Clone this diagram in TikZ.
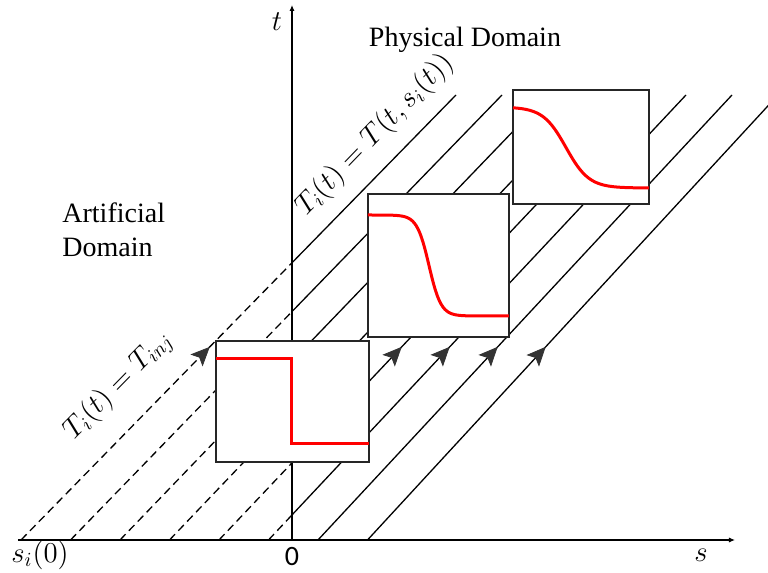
\documentclass[tikz,border=0pt]{standalone}
\usepackage{amsmath}
\usepackage{fontspec}
\setmainfont{Liberation Serif}
\newfontfamily\zerofont{Carlito}
\usepackage{tikz}
\usetikzlibrary{arrows.meta,calc,decorations.markings}
\definecolor{chrInk}{HTML}{000000}
\definecolor{chrFrame}{HTML}{262626}
\definecolor{chrTip}{HTML}{333333}
\definecolor{chrRed}{HTML}{FF0000}
\tikzset{
    >=Latex,
    axis/.style={-{Latex[length=3pt,width=2.6pt]}, line width=0.85pt, draw=chrInk},
    charline/.style={line width=0.65pt, draw=chrInk},
    artline/.style={charline, dash pattern=on 4pt off 2.4pt},
    tipmark/.style={decorate, decoration={markings, mark=at position #1 with {\arrow{Stealth[length=9.5pt,width=8.5pt,inset=2pt,color=chrTip]}}}},
    plotbox/.style={draw=chrFrame, line width=0.6pt, fill=white, inner sep=0pt},
    profile/.style={draw=chrRed, line width=1.5pt},
    domlabel/.style={inner sep=0pt, align=left, text=chrInk}
}
\begin{document}
\begin{tikzpicture}[x=0.5pt, y=0.5pt, font=\fontsize{14}{17}\selectfont]
\useasboundingbox (-292,-33) rectangle (476,540);
\begin{scope}
\clip (-292,-33) rectangle (476,540);
\foreach \k in {0,...,7}{
  \pgfmathsetmacro{\sx}{-271+49.5*\k}
  \pgfmathsetmacro{\ex}{\sx+435-3.5*\k}
  \pgfmathsetmacro{\cut}{max(0,-\sx/(\ex-\sx))}
  \coordinate (foot\k) at (\sx,0);
  \coordinate (head\k) at (\ex,445);
  \coordinate (cross\k) at ($(foot\k)!\cut!(head\k)$);
  \draw[artline] (foot\k) -- (cross\k);
  \draw[charline] (cross\k) -- (head\k);
  \path[tipmark=0.434] (foot\k) -- (head\k);
}
\end{scope}
\coordinate (origin) at (0,0);
\coordinate (sleft) at (-274,0);
\coordinate (send) at (443,0);
\coordinate (ttop) at (0,535);
\draw[axis] (sleft) -- (send);
\draw[axis] (origin) -- (ttop);
\node (tlab) at (-15,518) {$t$};
\node (slab) at (409,-15) {$s$};
\node (zero) at (0,-17) {\zerofont 0};
\node (sstart) at (-252,-15) {$s_i(0)$};
\node[domlabel, anchor=north west] (artdom) at (-230,338) {Artificial\\Domain};
\node[domlabel, anchor=base] (physdom) at (173,493) {Physical Domain};
\node[rotate=46, anchor=base] (physlab) at (88,400) {$T_i(t) = T(t, s_i(t))$};
\node[rotate=45.6, anchor=base] (artlab) at (-169,150) {$T_i(t) = T_{inj}$};
\node[plotbox, minimum width=76.5pt, minimum height=60.5pt] (stepbox) at (0.5,138.5) {};
\node[plotbox, minimum width=70.5pt, minimum height=71.5pt] (midbox) at (146.5,274.5) {};
\node[plotbox, minimum width=68pt, minimum height=57pt] (latebox) at (289,393) {};
\draw[profile] (-76,181) -- (0,181) -- (0,96) -- (77,96);
\draw[profile] plot[domain=76:217, samples=80, smooth] (\x, {325-50.5*(1+tanh((\x-137)/12))});
\draw[profile] plot[domain=221:357, samples=80, smooth] (\x, {433-40.5*(1+tanh((\x-274)/23))});
\end{tikzpicture}
\end{document}
